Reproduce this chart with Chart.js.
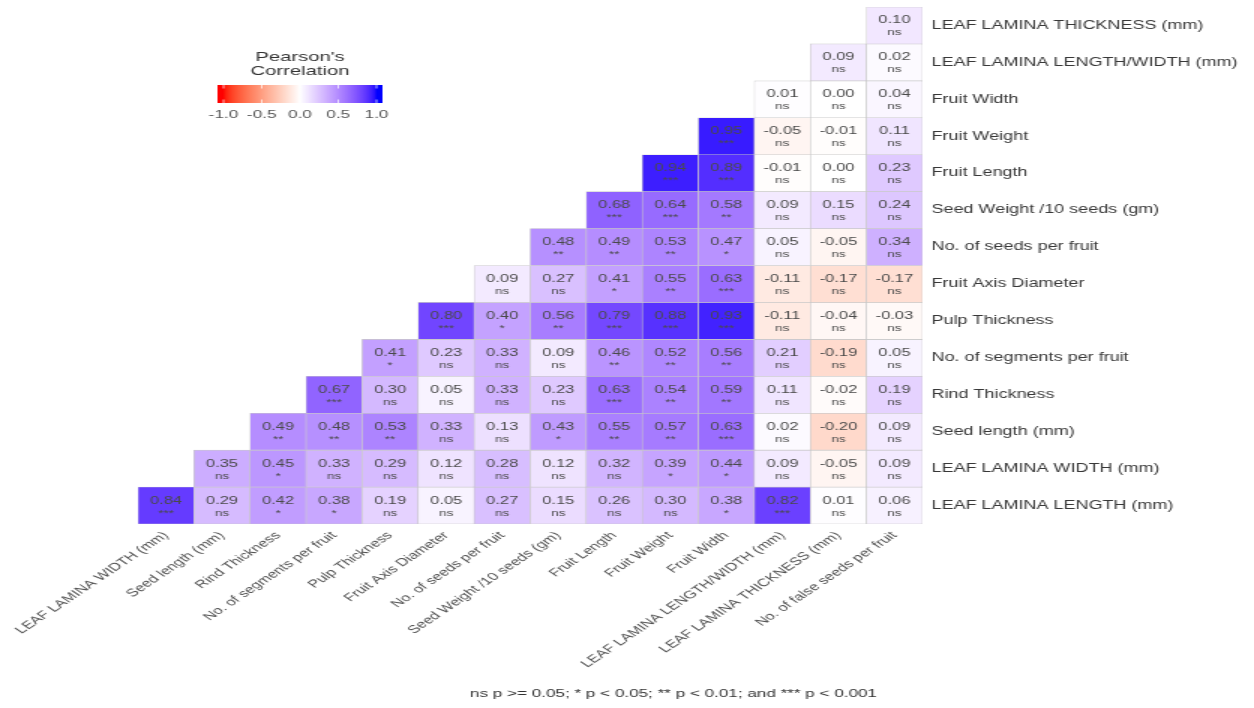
<!DOCTYPE html>
<html>
<head>
<meta charset="utf-8">
<script src="https://cdn.jsdelivr.net/npm/chart.js@4.4.1/dist/chart.umd.min.js"></script>
<style>
  html, body { margin: 0; padding: 0; background: #ffffff; overflow: hidden; }
  /* the figure is laid out on a narrower canvas and widened 1.5x horizontally */
  #frame { position: absolute; left: 0; top: 0; width: 836px; height: 708px;
           transform: scaleX(1.5); transform-origin: 0 0; }
</style>
</head>
<body>
<div id="frame"><canvas id="corr"></canvas></div>
<script>
// ---- variables (columns, left to right) ----
const columnLabels = [
  "LEAF LAMINA WIDTH (mm)", "Seed length (mm)", "Rind Thickness",
  "No. of segments per fruit", "Pulp Thickness", "Fruit Axis Diameter",
  "No. of seeds per fruit", "Seed Weight /10 seeds (gm)", "Fruit Length",
  "Fruit Weight", "Fruit Width", "LEAF LAMINA LENGTH/WIDTH (mm)",
  "LEAF LAMINA THICKNESS (mm)", "No. of false seeds per fruit"
];

// ---- variables (rows, top to bottom) ----
const rowLabels = [
  "LEAF LAMINA THICKNESS (mm)", "LEAF LAMINA LENGTH/WIDTH (mm)", "Fruit Width",
  "Fruit Weight", "Fruit Length", "Seed Weight /10 seeds (gm)",
  "No. of seeds per fruit", "Fruit Axis Diameter", "Pulp Thickness",
  "No. of segments per fruit", "Rind Thickness", "Seed length (mm)",
  "LEAF LAMINA WIDTH (mm)", "LEAF LAMINA LENGTH (mm)"
];

// Pearson r for each row, from its first filled column to the last column
const rLeafThickness   = [0.10];
const rLeafLenWidth    = [0.09, 0.02];
const rFruitWidth      = [0.01, 0.00, 0.04];
const rFruitWeight     = [0.95, -0.05, -0.01, 0.11];
const rFruitLength     = [0.94, 0.89, -0.01, 0.00, 0.23];
const rSeedWeight      = [0.68, 0.64, 0.58, 0.09, 0.15, 0.24];
const rSeedsPerFruit   = [0.48, 0.49, 0.53, 0.47, 0.05, -0.05, 0.34];
const rAxisDiameter    = [0.09, 0.27, 0.41, 0.55, 0.63, -0.11, -0.17, -0.17];
const rPulpThickness   = [0.80, 0.40, 0.56, 0.79, 0.88, 0.93, -0.11, -0.04, -0.03];
const rSegments        = [0.41, 0.23, 0.33, 0.09, 0.46, 0.52, 0.56, 0.21, -0.19, 0.05];
const rRindThickness   = [0.67, 0.30, 0.05, 0.33, 0.23, 0.63, 0.54, 0.59, 0.11, -0.02, 0.19];
const rSeedLength      = [0.49, 0.48, 0.53, 0.33, 0.13, 0.43, 0.55, 0.57, 0.63, 0.02, -0.20, 0.09];
const rLeafWidth       = [0.35, 0.45, 0.33, 0.29, 0.12, 0.28, 0.12, 0.32, 0.39, 0.44, 0.09, -0.05, 0.09];
const rLeafLength      = [0.84, 0.29, 0.42, 0.38, 0.19, 0.05, 0.27, 0.15, 0.26, 0.30, 0.38, 0.82, 0.01, 0.06];

// significance codes, same layout
const pLeafThickness   = ["ns"];
const pLeafLenWidth    = ["ns", "ns"];
const pFruitWidth      = ["ns", "ns", "ns"];
const pFruitWeight     = ["***", "ns", "ns", "ns"];
const pFruitLength     = ["***", "***", "ns", "ns", "ns"];
const pSeedWeight      = ["***", "***", "**", "ns", "ns", "ns"];
const pSeedsPerFruit   = ["**", "**", "**", "*", "ns", "ns", "ns"];
const pAxisDiameter    = ["ns", "ns", "*", "**", "***", "ns", "ns", "ns"];
const pPulpThickness   = ["***", "*", "**", "***", "***", "***", "ns", "ns", "ns"];
const pSegments        = ["*", "ns", "ns", "ns", "**", "**", "**", "ns", "ns", "ns"];
const pRindThickness   = ["***", "ns", "ns", "ns", "ns", "***", "**", "**", "ns", "ns", "ns"];
const pSeedLength      = ["**", "**", "**", "ns", "ns", "*", "**", "**", "***", "ns", "ns", "ns"];
const pLeafWidth       = ["ns", "*", "ns", "ns", "ns", "ns", "ns", "ns", "*", "*", "ns", "ns", "ns"];
const pLeafLength      = ["***", "ns", "*", "*", "ns", "ns", "ns", "ns", "ns", "ns", "*", "***", "ns", "ns"];

const legendTitle = ["Pearson's", "Correlation"];
const legendTicks = [-1.0, -0.5, 0.0, 0.5, 1.0];
const captionText = "ns p >= 0.05; * p < 0.05; ** p < 0.01; and *** p < 0.001";

const rowValues = [rLeafThickness, rLeafLenWidth, rFruitWidth, rFruitWeight, rFruitLength,
  rSeedWeight, rSeedsPerFruit, rAxisDiameter, rPulpThickness, rSegments, rRindThickness,
  rSeedLength, rLeafWidth, rLeafLength];
const rowSignif = [pLeafThickness, pLeafLenWidth, pFruitWidth, pFruitWeight, pFruitLength,
  pSeedWeight, pSeedsPerFruit, pAxisDiameter, pPulpThickness, pSegments, pRindThickness,
  pSeedLength, pLeafWidth, pLeafLength];

// ---- diverging red - white - blue fill, interpolated in CIE Lab ----
function toLinear(c) { c /= 255; return c <= 0.04045 ? c / 12.92 : Math.pow((c + 0.055) / 1.055, 2.4); }
function fromLinear(c) {
  const v = c <= 0.0031308 ? 12.92 * c : 1.055 * Math.pow(c, 1 / 2.4) - 0.055;
  return Math.round(Math.min(1, Math.max(0, v)) * 255);
}
function rgbToLab(rgb) {
  const R = toLinear(rgb[0]), G = toLinear(rgb[1]), B = toLinear(rgb[2]);
  const X = (0.4124564 * R + 0.3575761 * G + 0.1804375 * B) / 0.95047;
  const Y = (0.2126729 * R + 0.7151522 * G + 0.0721750 * B);
  const Z = (0.0193339 * R + 0.1191920 * G + 0.9503041 * B) / 1.08883;
  const f = t => t > 0.008856 ? Math.cbrt(t) : (7.787 * t + 16 / 116);
  const fx = f(X), fy = f(Y), fz = f(Z);
  return [116 * fy - 16, 500 * (fx - fy), 200 * (fy - fz)];
}
function labToRgb(lab) {
  const fy = (lab[0] + 16) / 116, fx = fy + lab[1] / 500, fz = fy - lab[2] / 200;
  const inv = t => { const t3 = t * t * t; return t3 > 0.008856 ? t3 : (t - 16 / 116) / 7.787; };
  const X = inv(fx) * 0.95047, Y = inv(fy), Z = inv(fz) * 1.08883;
  return [
    fromLinear(3.2404542 * X - 1.5371385 * Y - 0.4985314 * Z),
    fromLinear(-0.9692660 * X + 1.8760108 * Y + 0.0415560 * Z),
    fromLinear(0.0556434 * X - 0.2040259 * Y + 1.0572252 * Z)
  ];
}
const labLow = rgbToLab([255, 0, 0]);
const labMid = rgbToLab([255, 255, 255]);
const labHigh = rgbToLab([0, 0, 255]);
function fillFor(r) {
  const t = Math.min(1, Math.abs(r));
  const end = r < 0 ? labLow : labHigh;
  const lab = [0, 1, 2].map(k => labMid[k] + (end[k] - labMid[k]) * t);
  const c = labToRgb(lab);
  return `rgb(${c[0]},${c[1]},${c[2]})`;
}

// ---- one floating-bar dataset per row; each filled column is one tile ----
const nCols = columnLabels.length, nRows = rowLabels.length;
const datasets = rowLabels.map((name, i) => {
  const first = nCols - 1 - i;
  const y0 = nRows - 1 - i;
  const vals = rowValues[i];
  return {
    label: name,
    data: columnLabels.map((_, c) => c >= first ? [y0, y0 + 1] : null),
    backgroundColor: columnLabels.map((_, c) => c >= first ? fillFor(vals[c - first]) : 'rgba(0,0,0,0)'),
    borderColor: '#c8c8c8',
    borderWidth: 0.6,
    borderSkipped: false,
    grouped: false,
    barPercentage: 1,
    categoryPercentage: 1,
    corr: vals,
    signif: rowSignif[i],
    firstCol: first
  };
});

const FONT = "'Liberation Sans', Arial, Helvetica, sans-serif";
Chart.defaults.font.family = FONT;

// tile text: coefficient above, significance code below
const tileLabels = {
  id: 'tileLabels',
  afterDatasetsDraw(chart) {
    const ctx = chart.ctx;
    ctx.save();
    ctx.textAlign = 'center';
    ctx.textBaseline = 'middle';
    chart.data.datasets.forEach((ds, i) => {
      const meta = chart.getDatasetMeta(i);
      meta.data.forEach((bar, c) => {
        if (c < ds.firstCol) return;
        const k = c - ds.firstCol;
        const cy = (bar.y + bar.base) / 2;
        ctx.fillStyle = '#4a4a4a';
        ctx.font = `11px ${FONT}`;
        ctx.fillText(ds.corr[k].toFixed(2), bar.x, cy - 5);
        ctx.font = `9px ${FONT}`;
        ctx.fillText(ds.signif[k], bar.x, cy + 7.5);
      });
    });
    ctx.restore();
  }
};

// colour bar legend and significance caption
const colourKey = {
  id: 'colourKey',
  afterDraw(chart) {
    const ctx = chart.ctx;
    ctx.save();
    ctx.textAlign = 'center';
    ctx.textBaseline = 'middle';
    ctx.fillStyle = '#333333';
    ctx.font = `13.5px ${FONT}`;
    ctx.fillText(legendTitle[0], 200, 57);
    ctx.fillText(legendTitle[1], 200, 71.5);

    const barL = 145, barR = 255, barT = 85, barB = 103;
    const cx = 200, half = 51;
    const grad = ctx.createLinearGradient(barL, 0, barR, 0);
    for (let s = 0; s <= 60; s++) {
      const x = barL + (barR - barL) * s / 60;
      const v = Math.max(-1, Math.min(1, (x - cx) / half));
      grad.addColorStop(s / 60, fillFor(v));
    }
    ctx.fillStyle = grad;
    ctx.fillRect(barL, barT, barR - barL, barB - barT);

    ctx.strokeStyle = 'rgba(255,255,255,0.9)';
    ctx.lineWidth = 0.8;
    ctx.fillStyle = '#555555';
    ctx.font = `11.5px ${FONT}`;
    legendTicks.forEach(v => {
      const x = cx + v * half;
      ctx.beginPath();
      ctx.moveTo(x, barT); ctx.lineTo(x, barT + 3.5);
      ctx.moveTo(x, barB); ctx.lineTo(x, barB - 3.5);
      ctx.stroke();
      ctx.fillText(v.toFixed(1), x, 115);
    });

    ctx.fillStyle = '#333333';
    ctx.font = `11.4px ${FONT}`;
    ctx.fillText(captionText, 449, 694);
    ctx.restore();
  }
};

new Chart(document.getElementById('corr'), {
  type: 'bar',
  data: { labels: columnLabels, datasets },
  options: {
    responsive: true,
    maintainAspectRatio: false,
    animation: false,
    events: [],
    layout: { padding: { left: 92, top: 7, right: 0, bottom: 0 } },
    plugins: { legend: { display: false }, tooltip: { enabled: false } },
    scales: {
      x: {
        type: 'category',
        offset: true,
        grid: { display: false, drawTicks: false },
        border: { display: false },
        ticks: {
          autoSkip: false, minRotation: 45, maxRotation: 45, padding: 5,
          color: '#505050', font: { size: 11 }
        },
        afterFit(scale) { scale.height = 184; scale.paddingLeft = 0; scale.paddingRight = 0; }
      },
      y: {
        type: 'linear',
        position: 'right',
        min: 0, max: nRows,
        grid: { display: false, drawTicks: false },
        border: { display: false },
        afterBuildTicks(scale) { scale.ticks = rowLabels.map((_, i) => ({ value: i + 0.5 })); },
        ticks: {
          autoSkip: false, padding: 6, color: '#383838', font: { size: 12 },
          callback: (value) => rowLabels[nRows - 1 - Math.floor(value)]
        },
        afterFit(scale) { scale.width = 221; scale.paddingTop = 0; scale.paddingBottom = 0; }
      }
    }
  },
  plugins: [tileLabels, colourKey]
});
</script>
</body>
</html>
